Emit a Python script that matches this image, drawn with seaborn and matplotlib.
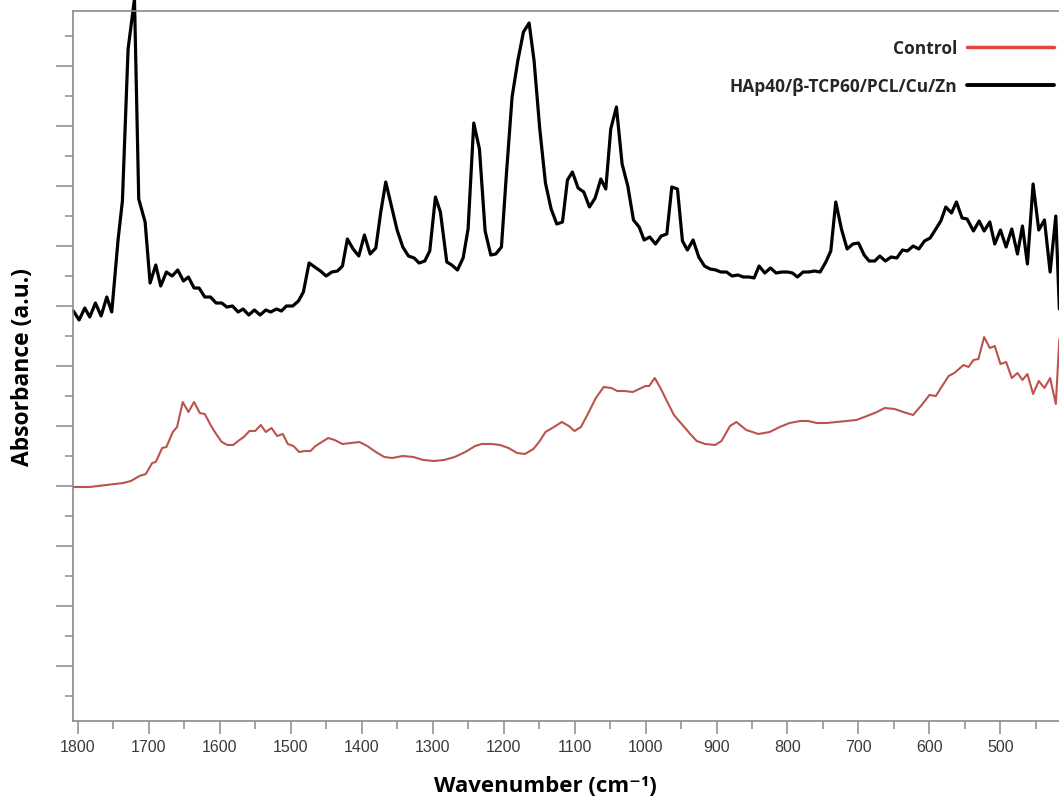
import numpy as np
import pandas as pd
import matplotlib
matplotlib.use("Agg")
import matplotlib.pyplot as plt
from matplotlib.lines import Line2D
from matplotlib.ticker import MultipleLocator
from matplotlib import font_manager
import seaborn as sns

# ---------------- data ----------------
wn_sample = [1806, 1798, 1790, 1783, 1775, 1767, 1759, 1752, 1743, 1737, 1729, 1720, 1714, 1705, 1698,
             1690, 1683, 1675, 1667, 1659, 1651, 1644, 1636, 1629, 1621, 1613, 1605, 1597, 1590, 1582,
             1574, 1567, 1559, 1551, 1543, 1535, 1528, 1520, 1513, 1506, 1497, 1489, 1482, 1474, 1466,
             1458, 1450, 1442, 1434, 1427, 1420, 1412, 1404, 1396, 1388, 1380, 1373, 1366, 1358, 1350,
             1342, 1334, 1326, 1319, 1311, 1304, 1296, 1289, 1280, 1273, 1265, 1257, 1250, 1242, 1234,
             1226, 1218, 1211, 1203, 1196, 1188, 1180, 1172, 1164, 1157, 1149, 1141, 1133, 1125, 1117,
             1110, 1103, 1095, 1087, 1079, 1071, 1063, 1056, 1049, 1041, 1033, 1025, 1017, 1009, 1002,
             994, 986, 978, 970, 963, 955, 948, 941, 933, 925, 917, 909, 901, 894, 886,
             878, 870, 862, 854, 847, 840, 832, 824, 816, 808, 800, 793, 786, 778, 770,
             762, 754, 746, 739, 732, 724, 716, 708, 700, 692, 685, 677, 670, 662, 654,
             646, 638, 631, 623, 615, 607, 599, 591, 584, 577, 569, 562, 554, 547, 538,
             530, 523, 515, 508, 500, 492, 484, 476, 469, 462, 454, 446, 438, 430, 422, 417]
abs_sample = [415, 406, 418, 409, 423, 410, 429, 414, 487, 525, 677, 727, 527, 504, 443,
              461, 440, 454, 450, 456, 445, 449, 438, 438, 429, 429, 423, 423, 419, 420,
              414, 417, 411, 416, 411, 416, 414, 417, 415, 420, 420, 425, 434, 463, 459,
              455, 450, 454, 455, 460, 487, 477, 470, 491, 472, 478, 514, 544, 520, 496,
              479, 470, 468, 463, 465, 475, 529, 514, 464, 461, 456, 468, 497, 603, 577,
              495, 471, 472, 479, 552, 629, 665, 694, 703, 665, 597, 543, 517, 502, 504,
              546, 554, 538, 534, 519, 528, 547, 537, 597, 619, 562, 540, 506, 499, 486,
              489, 482, 490, 492, 539, 537, 485, 476, 486, 469, 460, 457, 456, 454, 454,
              450, 451, 449, 449, 448, 460, 453, 458, 453, 454, 454, 453, 449, 454, 454,
              455, 454, 464, 475, 524, 497, 477, 482, 483, 471, 465, 465, 470, 465, 469,
              468, 476, 475, 480, 477, 485, 488, 497, 505, 519, 513, 524, 508, 507, 495,
              505, 495, 504, 482, 496, 479, 497, 472, 500, 462, 542, 496, 506, 454, 510, 417]

wn_control = [1806, 1795, 1783, 1771, 1760, 1748, 1736, 1725, 1713, 1704, 1695, 1690, 1681, 1675, 1666,
              1660, 1652, 1644, 1636, 1628, 1621, 1612, 1605, 1597, 1589, 1581, 1574, 1566, 1558, 1550,
              1542, 1535, 1527, 1519, 1511, 1504, 1496, 1488, 1480, 1472, 1465, 1456, 1447, 1438, 1427,
              1415, 1403, 1392, 1380, 1368, 1357, 1342, 1327, 1313, 1298, 1284, 1269, 1254, 1240, 1231,
              1216, 1205, 1193, 1181, 1170, 1158, 1149, 1141, 1129, 1118, 1108, 1100, 1091, 1082, 1070,
              1059, 1048, 1040, 1030, 1018, 1009, 1000, 995, 987, 979, 970, 960, 948, 937, 928,
              916, 902, 893, 881, 872, 858, 841, 825, 811, 797, 782, 771, 759, 745, 731,
              717, 703, 688, 674, 663, 649, 637, 623, 611, 600, 591, 583, 573, 565, 552,
              545, 538, 531, 523, 515, 508, 500, 492, 484, 476, 469, 462, 454, 446, 438,
              430, 422, 417]
abs_control = [239, 239, 239, 240, 241, 242, 243, 245, 250, 252, 263, 264, 278, 279, 294,
               299, 324, 314, 324, 313, 312, 300, 292, 284, 281, 281, 285, 289, 295, 295,
               301, 294, 298, 290, 292, 282, 280, 274, 275, 275, 280, 284, 288, 286, 282,
               283, 284, 280, 274, 269, 268, 270, 269, 266, 265, 266, 269, 274, 280, 282,
               282, 281, 278, 273, 272, 277, 285, 294, 299, 304, 300, 295, 299, 311, 328,
               339, 338, 335, 335, 334, 337, 340, 340, 348, 338, 325, 311, 301, 292, 285,
               282, 281, 285, 300, 304, 296, 292, 294, 299, 303, 305, 305, 303, 303, 304,
               305, 306, 310, 314, 318, 317, 314, 311, 321, 331, 330, 339, 350, 353, 361,
               359, 366, 367, 389, 378, 380, 362, 364, 348, 353, 346, 352, 332, 345, 338,
               348, 322, 387]

series_labels = ["Control", "HAp40/β-TCP60/PCL/Cu/Zn"]
x_major_ticks = [1800, 1700, 1600, 1500, 1400, 1300, 1200, 1100, 1000, 900, 800, 700, 600, 500]

# ---------------- style ----------------
sns.set_theme(style="white")
names = {f.name for f in font_manager.fontManager.ttflist}
tick_family = "Liberation Sans Narrow" if "Liberation Sans Narrow" in names else "Liberation Sans"
tick_size = 12.5 if tick_family == "Liberation Sans Narrow" else 11.5
label_family = "Open Sans" if "Open Sans" in names else "DejaVu Sans"
plt.rcParams["font.family"] = [label_family, "DejaVu Sans"]

W, H = 1059, 803
fig = plt.figure(figsize=(W / 100, H / 100), dpi=100)
ax = fig.add_axes([73 / W, 1 - 722 / H, (W - 73) / W, (722 - 12) / H])

df_c = pd.DataFrame({"wn": wn_control, "A": abs_control})
df_s = pd.DataFrame({"wn": wn_sample, "A": abs_sample})

red_line = "#bb544c"
red_leg = "#e0463c"
sns.lineplot(data=df_c, x="wn", y="A", ax=ax, color=red_line, lw=1.5, estimator=None, sort=False)
sns.lineplot(data=df_s, x="wn", y="A", ax=ax, color="black", lw=2.3, estimator=None, sort=False,
             clip_on=False)

ax.set_xlim(1806.6, 417.5)
ax.set_ylim(5, 715)

spine_c = "#8a8a8a"
for s in ["left", "bottom", "top"]:
    ax.spines[s].set_visible(True)
    ax.spines[s].set_color(spine_c)
    ax.spines[s].set_linewidth(1.2)
ax.spines["right"].set_visible(False)

ax.set_xticks(x_major_ticks)
ax.set_xticklabels([str(t) for t in x_major_ticks], family=tick_family, fontsize=tick_size,
                   color="#3a3a3a")
ax.xaxis.set_minor_locator(MultipleLocator(50))
ax.yaxis.set_major_locator(MultipleLocator(60))
ax.yaxis.set_minor_locator(MultipleLocator(60, offset=30))
ax.tick_params(axis="x", which="major", direction="out", length=9.5, width=1.1, color=spine_c,
               pad=3.5, bottom=True)
ax.tick_params(axis="x", which="minor", direction="out", length=5.8, width=1.1, color=spine_c,
               bottom=True)
ax.tick_params(axis="y", which="major", direction="out", length=12.2, width=1.1, color=spine_c,
               left=True, labelleft=False)
ax.tick_params(axis="y", which="minor", direction="out", length=5.8, width=1.1, color=spine_c,
               left=True)

ax.set_xlabel("Wavenumber (cm⁻¹)", fontsize=16, fontweight="bold", color="black",
              family=[label_family, "DejaVu Sans"])
ax.xaxis.set_label_coords((545 - 73) / (W - 73), (722 - 787) / 710)
ax.xaxis.label.set_va("center")
ax.set_ylabel("Absorbance (a.u.)", fontsize=16.5, fontweight="bold", color="black")
ax.yaxis.set_label_coords((23 - 73) / (W - 73), (722 - 367) / 710)
ax.yaxis.label.set_va("center")

handles = [Line2D([], [], color=red_leg, lw=2.5), Line2D([], [], color="black", lw=2.8)]
leg = ax.legend(handles, series_labels, loc="upper right", markerfirst=False, frameon=False,
                bbox_to_anchor=(1054 / W, 1 - 40 / H), bbox_transform=fig.transFigure,
                borderpad=0, borderaxespad=0, handlelength=5.0, handletextpad=0.55,
                labelspacing=1.15, prop={"family": label_family, "weight": "bold", "size": 12.5})

fig.savefig("out.png", dpi=100)
